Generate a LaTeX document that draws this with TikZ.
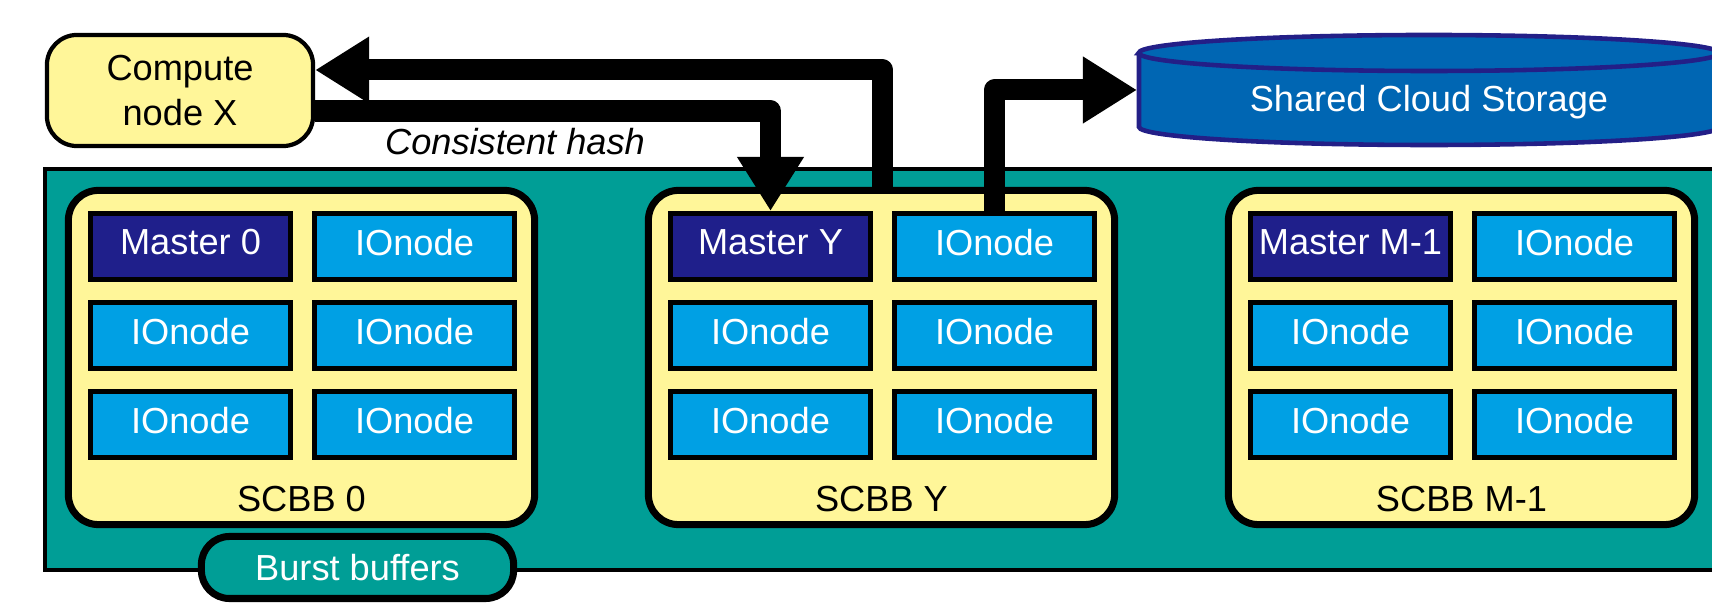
\documentclass[tikz,border=0pt]{standalone}
\usepackage{fontspec}
\setmainfont{Liberation Sans}
\usepackage{tikz}
\usetikzlibrary{arrows.meta}
\definecolor{cnyellow}{RGB}{255,246,153}
\definecolor{bbteal}{RGB}{0,158,150}
\definecolor{mnavy}{RGB}{31,31,139}
\definecolor{iocyan}{RGB}{0,160,228}
\definecolor{cloudblue}{RGB}{0,102,179}
\definecolor{clouddark}{RGB}{35,31,135}

\begin{document}
\begin{tikzpicture} [x=0.01cm, y=0.01cm,
  every node/.style={font=\fontsize{10.3}{12.8}\selectfont},
  scbb/.style={draw, line width=2pt, fill=cnyellow, rounded corners=0.3cm, minimum width=4.66cm, minimum height=3.34cm},
  master/.style={draw, line width=1.4pt, fill=mnavy, text=white, minimum width=2cm, minimum height=0.66cm, inner sep=0pt, text depth=0.09cm},
  io/.style={master, fill=iocyan},
  fat/.style={line width=0.21cm, line join=round, -{Triangle[length=0.54cm,width=0.63cm]}}]
\useasboundingbox (0,0) rectangle (1712,-604);
\clip (0,0) rectangle (1712,-604);
\draw [fill=bbteal, line width=1.4pt] (45,-169) rectangle (1760,-570);
\node [scbb] (s0) at (301.5,-357.5) {};
\node [scbb] (sY) at (881.5,-357.5) {};
\node [scbb] (sM) at (1461.5,-357.5) {};
\node [master] (m0) at (190.5,-246.5) {Master 0};
\node [io] (io01) at (414.5,-246.5) {IOnode};
\node [io] (io02) at (190.5,-335.5) {IOnode};
\node [io] (io03) at (414.5,-335.5) {IOnode};
\node [io] (io04) at (190.5,-424.5) {IOnode};
\node [io] (io05) at (414.5,-424.5) {IOnode};
\node [master] (mY) at (770.5,-246.5) {Master Y};
\node [io] (ioY1) at (994.5,-246.5) {IOnode};
\node [io] (ioY2) at (770.5,-335.5) {IOnode};
\node [io] (ioY3) at (994.5,-335.5) {IOnode};
\node [io] (ioY4) at (770.5,-424.5) {IOnode};
\node [io] (ioY5) at (994.5,-424.5) {IOnode};
\node [master] (mM) at (1350.5,-246.5) {Master M-1};
\node [io] (ioM1) at (1574.5,-246.5) {IOnode};
\node [io] (ioM2) at (1350.5,-335.5) {IOnode};
\node [io] (ioM3) at (1574.5,-335.5) {IOnode};
\node [io] (ioM4) at (1350.5,-424.5) {IOnode};
\node [io] (ioM5) at (1574.5,-424.5) {IOnode};
\node [anchor=base] (l0) at (301.5,-512) {SCBB 0};
\node [anchor=base] (lY) at (881.5,-512) {SCBB Y};
\node [anchor=base] (lM) at (1461.5,-512) {SCBB M-1};
\node [draw, line width=2pt, fill=bbteal, text=white, rounded corners=0.28cm, minimum width=3.12cm, minimum height=0.62cm] (bb) at (357.5,-567.5) {Burst buffers};
\node [draw, line width=1.2pt, fill=cnyellow, rounded corners=0.3cm, minimum width=2.66cm, minimum height=1.11cm, align=center] (X) at (180,-90.5) {Compute\\node X};
\node [anchor=base, font=\fontsize{10.3}{12.8}\selectfont\itshape] (hash) at (515,-155) {Consistent hash};
% cloud storage
\draw [fill=cloudblue, draw=clouddark, line width=1.3pt] (1139,-53) -- (1139,-127) arc (180:360:2.9cm and 0.18cm) -- (1719,-53) arc (0:180:2.9cm and 0.18cm) -- cycle;
\draw [draw=clouddark, line width=1.3pt] (1139,-53) arc (180:360:2.9cm and 0.18cm);
\node [anchor=base, text=white] (cloud) at (1429,-112) {Shared Cloud Storage};
\coordinate (up) at (882.5,-189);
\coordinate (cw) at (1137,-90);
\draw [fat] (up) |- ([yshift=0.205cm]X.east);
\draw [fat] ([yshift=-0.205cm]X.east) -| (mY.north);
\draw [fat] (ioY1.north) |- (cw);
\end{tikzpicture}
\end{document}
